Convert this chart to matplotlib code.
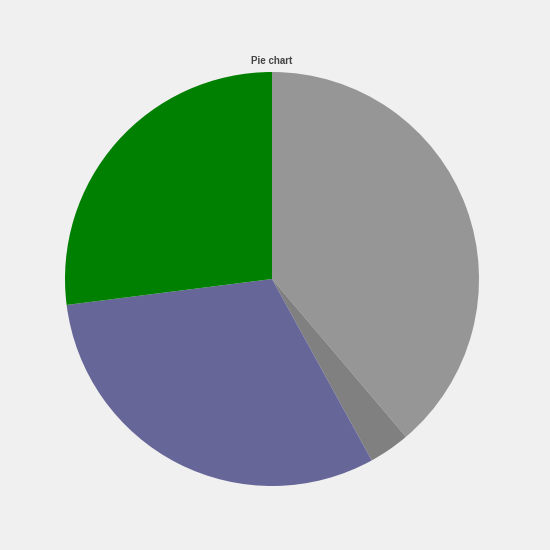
import matplotlib
matplotlib.use('Agg')
import matplotlib.pyplot as plt

# slice data, clockwise from 12 o'clock
labels = ['A', 'B', 'C', 'D']
values = [38.8, 3.2, 31.0, 27.0]
colors = ['#969696', '#808080', '#666699', '#008000']

fig = plt.figure(figsize=(5.5, 5.5), dpi=100)
fig.patch.set_facecolor('#f0f0f0')

ax = fig.add_axes([65/550, 64/550, 414/550, 414/550])
ax.pie(values, colors=colors, startangle=90, counterclock=False,
       radius=1, wedgeprops={'linewidth': 0})
ax.set_xlim(-1, 1)
ax.set_ylim(-1, 1)
ax.set_aspect('equal')
ax.axis('off')

fig.text(272/550, 1 - 61/550, 'Pie chart', ha='center', va='center',
         fontsize=7, fontweight='bold', color='#444444', family='Liberation Sans')

fig.savefig('out.png', dpi=100, facecolor=fig.get_facecolor())
